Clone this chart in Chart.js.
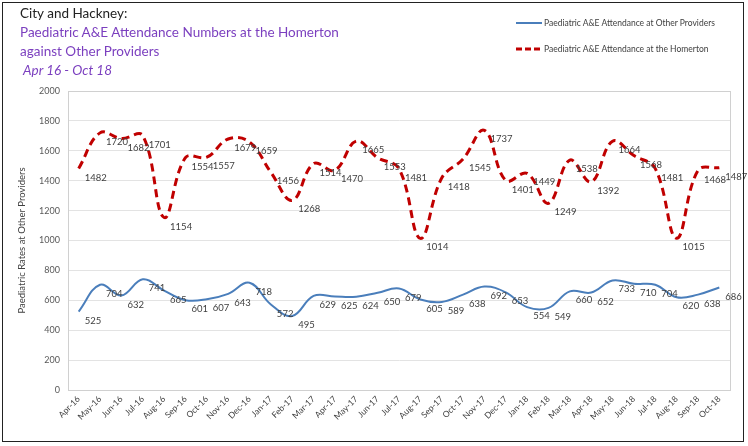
<!DOCTYPE html>
<html>
<head>
<meta charset="utf-8">
<script src="https://cdn.jsdelivr.net/npm/chart.js@4.4.0/dist/chart.umd.min.js"></script>
<style>
  body { margin: 0; background: #fff; font-family: Lato, "Open Sans", sans-serif; }
  #wrap { position: relative; width: 748px; height: 446px; }
  #frame { position: absolute; left: 2px; top: 2px; width: 740px; height: 438px; border: 1.5px solid #222; pointer-events: none; }
  #title { position: absolute; left: 20px; top: 4px; font-size: 13.5px; line-height: 19px; color: #7b3fbf; }
  #title .first { color: #222; }
  #title .period { font-style: italic; margin-left: 3px; }
  #legend { position: absolute; left: 516px; top: 16px; font-size: 8.5px; color: #404040; }
  #legend div { display: flex; align-items: center; height: 13px; margin-bottom: 13px; }
  #legend svg { margin-right: 2px; }
</style>
</head>
<body>
<div id="wrap">
  <canvas id="myChart" width="748" height="446"></canvas>
  <div id="title">
    <div class="first">City and Hackney:</div>
    <div>Paediatric A&amp;E Attendance Numbers at the Homerton</div>
    <div>against Other Providers</div>
    <div class="period">Apr 16 - Oct 18</div>
  </div>
  <div id="legend">
    <div><svg width="26" height="4"><line x1="0" y1="2" x2="26" y2="2" stroke="#4a7ebb" stroke-width="2"/></svg>Paediatric A&amp;E Attendance at Other Providers</div>
    <div><svg width="26" height="4"><line x1="0" y1="2" x2="26" y2="2" stroke="#c00000" stroke-width="3" stroke-dasharray="6,3"/></svg>Paediatric A&amp;E Attendance at the Homerton</div>
  </div>
  <div id="frame"></div>
</div>
<script>
const months = [
  "Apr-16", "May-16", "Jun-16", "Jul-16", "Aug-16", "Sep-16", "Oct-16", "Nov-16", "Dec-16",
  "Jan-17", "Feb-17", "Mar-17", "Apr-17", "May-17", "Jun-17", "Jul-17", "Aug-17", "Sep-17",
  "Oct-17", "Nov-17", "Dec-17", "Jan-18", "Feb-18", "Mar-18", "Apr-18", "May-18", "Jun-18",
  "Jul-18", "Aug-18", "Sep-18", "Oct-18"
];

const otherProviders = [
  525, 704, 632, 741, 665, 601, 607, 643, 718, 572, 495, 629, 625, 624, 650, 679,
  605, 589, 638, 692, 653, 554, 549, 660, 652, 733, 710, 704, 620, 638, 686
];

const homerton = [
  1482, 1720, 1682, 1701, 1154, 1554, 1557, 1679, 1659, 1456, 1268, 1514, 1470, 1665, 1553, 1481,
  1014, 1418, 1545, 1737, 1401, 1449, 1249, 1538, 1392, 1664, 1568, 1481, 1015, 1468, 1487
];

// draw each value just right of its point
const valueLabels = {
  id: "valueLabels",
  afterDatasetsDraw(chart) {
    const ctx = chart.ctx;
    ctx.save();
    ctx.font = "9.5px Lato, sans-serif";
    ctx.fillStyle = "#404040";
    ctx.textAlign = "left";
    ctx.textBaseline = "middle";
    chart.data.datasets.forEach((ds, i) => {
      const meta = chart.getDatasetMeta(i);
      meta.data.forEach((pt, j) => {
        ctx.fillText(ds.data[j], pt.x + 6, pt.y + 9);
      });
    });
    ctx.restore();
  }
};

// light box round the plot area
const areaBorder = {
  id: "areaBorder",
  beforeDatasetsDraw(chart) {
    const { ctx, chartArea: a } = chart;
    ctx.save();
    ctx.strokeStyle = "#d0d0d0";
    ctx.lineWidth = 1;
    ctx.strokeRect(a.left + 0.5, a.top + 0.5, a.right - a.left, a.bottom - a.top);
    ctx.restore();
  }
};

new Chart(document.getElementById("myChart").getContext("2d"), {
  type: "line",
  data: {
    labels: months,
    datasets: [
      {
        label: "Paediatric A&E Attendance at Other Providers",
        data: otherProviders,
        borderColor: "#4a7ebb",
        borderWidth: 2,
        pointRadius: 0,
        tension: 0.4
      },
      {
        label: "Paediatric A&E Attendance at the Homerton",
        data: homerton,
        borderColor: "#c00000",
        borderWidth: 3,
        borderDash: [8, 5],
        pointRadius: 0,
        tension: 0.4
      }
    ]
  },
  options: {
    responsive: false,
    animation: false,
    layout: { padding: { top: 91, right: 18, left: 16, bottom: 0 } },
    plugins: {
      legend: { display: false },
      tooltip: { enabled: false }
    },
    scales: {
      x: {
        offset: true,
        grid: { display: false, drawTicks: false },
        border: { color: "#bfbfbf" },
        ticks: {
          color: "#404040",
          font: { size: 8.5, family: "Lato" },
          maxRotation: 45,
          minRotation: 45,
          autoSkip: false,
          padding: 4
        },
        afterFit(scale) { scale.height = 56; }
      },
      y: {
        min: 0,
        max: 2000,
        ticks: {
          stepSize: 200,
          color: "#595959",
          font: { size: 9, family: "Lato" },
          padding: 8,
          callback: (v) => String(v)
        },
        grid: { color: "#e3e3e3", drawTicks: false },
        border: { color: "#bfbfbf" },
        title: {
          display: true,
          text: "Paediatric Rates at Other Providers",
          color: "#404040",
          font: { size: 9.5, family: "Lato" },
          padding: 0
        },
        afterFit(scale) { scale.width = 52; }
      }
    }
  },
  plugins: [valueLabels, areaBorder]
});
</script>
</body>
</html>
